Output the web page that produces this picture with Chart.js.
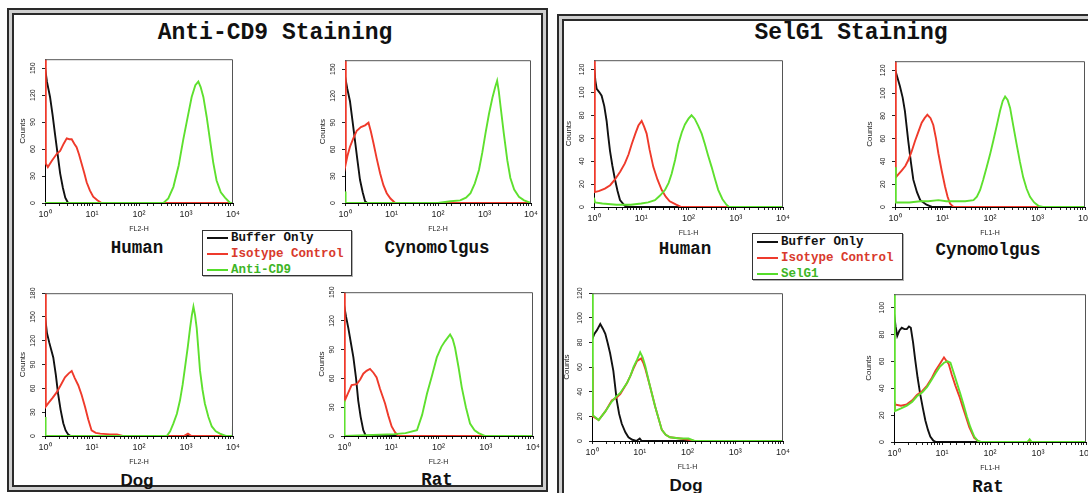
<!DOCTYPE html>
<html><head><meta charset="utf-8">
<script src="https://cdn.jsdelivr.net/npm/chart.js@4/dist/chart.umd.min.js"></script>
<style>
body{margin:0;background:#fff;width:1088px;height:493px;overflow:hidden;position:relative;font-family:"Liberation Sans",Arial,sans-serif}
.frame{position:absolute;border:2px solid #2a2a2a;background:#cfcfcf;box-sizing:border-box}
.inner{position:absolute;left:3px;top:3px;right:3px;bottom:3px;border:2px solid #2a2a2a;background:#fff;box-sizing:border-box}
.t{position:absolute;white-space:nowrap;transform:translate(-50%,-50%);font-family:"Liberation Mono","Courier New",monospace;font-weight:bold;color:#111}
.sans{font-family:"Liberation Sans",Arial,sans-serif}
.cv{position:absolute}
.leg{position:absolute;border:1px solid #333;background:#fff;box-shadow:1px 1px 0 #b0b0b0;box-sizing:border-box}
.row{position:absolute;left:4px;height:14px;display:flex;align-items:center;font-family:"Liberation Mono","Courier New",monospace;font-weight:bold;font-size:12.5px;white-space:nowrap}
.row i{display:inline-block;width:21px;height:2px;margin-right:3px}
</style></head>
<body>
<div class="frame" style="left:7px;top:8px;width:541px;height:484px"><div class="inner"></div></div>
<div class="frame" style="left:557px;top:14px;width:545px;height:495px"><div class="inner"></div></div>

<div class="t" style="left:275px;top:33px;font-size:23px">Anti-CD9 Staining</div>
<div class="t" style="left:851px;top:33px;font-size:23px">SelG1 Staining</div>

<div class="t" style="left:137px;top:248px;font-size:17.5px">Human</div>
<div class="t" style="left:437px;top:248px;font-size:17.5px">Cynomolgus</div>
<div class="t sans" style="left:137px;top:481px;font-size:17px">Dog</div>
<div class="t" style="left:437px;top:480px;font-size:17.5px">Rat</div>
<div class="t" style="left:685px;top:249px;font-size:17.5px">Human</div>
<div class="t" style="left:988px;top:250px;font-size:17.5px">Cynomolgus</div>
<div class="t sans" style="left:686px;top:486px;font-size:17px">Dog</div>
<div class="t" style="left:988px;top:487px;font-size:17.5px">Rat</div>

<div class="leg" style="left:202px;top:230px;width:150px;height:46px">
  <div class="row" style="top:0px;color:#111"><i style="background:#111"></i>Buffer Only</div>
  <div class="row" style="top:16px;color:#d8392c"><i style="background:#ee3a2c"></i>Isotype Control</div>
  <div class="row" style="top:32px;color:#3db526"><i style="background:#55dd2a"></i>Anti-CD9</div>
</div>
<div class="leg" style="left:752px;top:233px;width:151px;height:47px">
  <div class="row" style="top:1px;color:#111"><i style="background:#111"></i>Buffer Only</div>
  <div class="row" style="top:17px;color:#d8392c"><i style="background:#ee3a2c"></i>Isotype Control</div>
  <div class="row" style="top:33px;color:#3db526"><i style="background:#55dd2a"></i>SelG1</div>
</div>

<script>
// ---------------- DATA: [fluorescence, counts] ----------------
const cd9HumanBuffer  = [[1,151],[1.1,135],[1.28,118],[1.45,98],[1.63,77],[1.85,55],[2.1,33],[2.4,17],[2.7,6],[3.1,0],[10000,0]];
const cd9HumanIsotype = [[1,200],[1.04,44],[1.15,40],[1.4,47],[1.8,55],[2.1,58],[2.5,66],[2.9,72],[3.3,71],[3.7,71],[4.2,66],[4.7,62],[5.3,54],[6,44],[6.8,34],[7.7,23],[9,14],[10.6,7],[13,3],[16,0],[10000,0]];
const cd9HumanStain   = [[1,0],[330,0],[420,5],[540,18],[700,42],[870,70],[1080,95],[1320,118],[1580,131],[1830,135],[2050,129],[2340,118],[2750,96],[3240,70],[3800,45],[4470,25],[5500,12],[6760,6],[8700,0],[10000,0]];

const cd9CynoBuffer  = [[1,142],[1.12,128],[1.28,114],[1.45,92],[1.64,70],[1.85,48],[2.1,26],[2.4,12],[2.7,2],[3.0,0],[10000,0]];
const cd9CynoIsotype = [[1,200],[1.04,44],[1.12,52],[1.28,63],[1.5,72],[1.79,81],[2.2,85],[2.7,87],[3.2,90],[3.6,80],[4.1,67],[4.8,50],[5.7,33],[6.7,20],[7.9,11],[9.5,5],[12,0],[10000,0]];
const cd9CynoStain   = [[1,13],[1.03,0],[100,0],[186,2],[300,3],[400,6],[500,11],[620,22],[760,37],[900,57],[1050,78],[1250,100],[1480,118],[1700,130],[1870,137],[2030,125],[2230,107],[2600,78],[3090,48],[3600,28],[4350,15],[5500,7],[7100,3],[10000,0]];

const cd9DogBuffer  = [[1,151],[1.1,130],[1.23,118],[1.35,109],[1.5,99],[1.7,77],[1.9,53],[2.15,33],[2.45,16],[2.75,7],[3.1,2],[3.5,0],[10000,0]];
const cd9DogIsotype = [[1,200],[1.04,37],[1.2,42],[1.45,48],[1.77,55],[2.2,65],[2.66,74],[3.2,79],[3.7,82],[4.3,73],[5.1,64],[6,52],[7.1,37],[8.3,21],[9.8,7],[12,4],[15,3],[24,2],[34,2],[45,0],[900,0],[1100,3],[1300,0],[10000,0]];
const cd9DogStain   = [[1,24],[1.03,0],[390,0],[460,6],[540,16],[640,28],[745,45],[850,65],[950,86],[1090,112],[1220,136],[1330,152],[1440,163],[1560,152],[1690,136],[1840,108],[1990,82],[2250,58],[2520,41],[3000,24],[3540,12],[4300,6],[5270,3],[7000,0],[9900,0],[10000,22]];

const cd9RatBuffer  = [[1,137],[1.1,125],[1.23,113],[1.4,97],[1.58,82],[1.8,60],[2.0,37],[2.25,20],[2.56,6],[2.9,0],[10000,0]];
const cd9RatIsotype = [[1,200],[1.04,37],[1.2,44],[1.45,53],[1.86,54],[2.2,59],[2.56,65],[3.0,68],[3.55,70],[4.2,66],[4.9,61],[5.8,49],[7.4,34],[8.7,21],[10.2,10],[12,4],[14,0],[10000,0]];
const cd9RatStain   = [[1,37],[1.03,0],[11.5,2],[20,3],[35,6],[45,22],[57,44],[73,63],[92,82],[115,93],[138,99],[176,106],[200,101],[224,92],[265,72],[310,51],[380,30],[465,13],[580,6],[705,3],[980,0],[10000,0]];

const selHumanBuffer  = [[1,124],[1.07,110],[1.14,103],[1.3,100],[1.45,97],[1.65,88],[1.85,75],[2.0,62],[2.18,49],[2.45,36],[2.78,24],[3.15,14],[3.55,6],[4.5,1],[5.5,0],[10000,0]];
const selHumanIsotype = [[1,200],[1.04,13],[1.3,14],[1.7,16],[2.2,19],[2.78,24],[3.6,31],[4.5,38],[5.4,46],[6.3,55],[7.5,64],[8.7,71],[10.2,75],[11.5,70],[13,64],[15,50],[18,35],[22,24],[27,15],[33,9],[40,5],[55,2],[71,0],[10000,0]];
const selHumanStain   = [[1,8],[1.05,4],[1.5,3],[3,2],[6,2],[10,3],[14,4],[19.5,6],[25,10],[32,15],[38,21],[44,29],[52,41],[61,55],[72,65],[84,72],[100,77],[116,80],[135,77],[160,71],[190,64],[222,55],[260,45],[308,35],[360,25],[425,15],[520,7],[635,2],[720,0],[10000,0]];

const selCynoBuffer  = [[1,121],[1.12,114],[1.27,106],[1.45,96],[1.62,84],[1.9,58],[2.15,40],[2.43,24],[2.9,13],[3.4,6],[4.6,2],[6,0],[10000,0]];
const selCynoIsotype = [[1,200],[1.04,26],[1.2,29],[1.38,32],[1.65,36],[1.9,41],[2.25,49],[2.64,58],[3.1,66],[3.65,74],[4.2,78],[4.8,81],[5.6,78],[6.4,72],[7.3,60],[8.2,47],[9.6,32],[11.3,18],[12.8,9],[14.4,3],[17,0],[10000,0]];
const selCynoStain   = [[1,35],[1.04,4],[2,4],[3.4,5],[5,5],[8.2,6],[12,5],[17,5],[30,5],[45,6],[53,9],[62,15],[72,24],[85,35],[100,46],[117,58],[138,71],[162,84],[185,93],[208,97],[235,94],[265,87],[310,71],[364,55],[425,40],[500,26],[590,16],[695,9],[850,4],[1045,1],[1300,0],[10000,0]];

const selDogBuffer  = [[1,82],[1.12,87],[1.27,90],[1.49,95],[1.7,91],[1.9,87],[2.15,79],[2.4,71],[2.8,57],[3.3,33],[3.7,22],[4.2,14],[5,7],[5.8,3],[7,1],[8.5,0],[10,2],[11,0],[10000,0]];
const selDogIsotype = [[1,60],[1.04,20],[1.38,17],[1.9,24],[2.6,33],[3.2,35],[3.9,38],[5.4,47],[6.4,53],[7.4,59],[8.8,65],[10.7,67],[12,63],[13,59],[16.5,44],[21,28],[29,9],[35,5],[43,3],[70,2],[105,1],[140,0],[10000,0]];
const selDogStain   = [[1,200],[1.04,21],[1.38,17],[1.9,24],[2.6,32],[3.2,36],[3.9,39],[5.4,47],[6.4,53],[7.4,60],[8.8,66],[10.2,72],[11.5,68],[13,61],[16.5,44],[21,28],[29,9],[35,5],[43,3],[70,2],[105,2],[140,0],[10000,0]];

const selRatBuffer  = [[1,96],[1.08,86],[1.17,79],[1.3,83],[1.45,85],[1.65,84],[1.85,84],[2.05,86],[2.24,85],[2.5,74],[2.77,61],[3.1,48],[3.5,36],[4.0,25],[4.5,16],[5.1,9],[5.7,4],[6.6,1],[7.5,0],[10000,0]];
const selRatIsotype = [[1,30],[1.04,28],[1.4,27],[1.85,28],[2.4,31],[3,35],[3.9,38],[4.9,42],[6,47],[7.3,53],[9,58],[11,63],[13.8,58],[16,50],[19,42],[23,34],[27,26],[32,18],[37,11],[47,3],[60,0],[10000,0]];
const selRatStain   = [[1,200],[1.04,23],[1.4,25],[1.85,27],[2.4,30],[3,34],[3.9,37],[4.9,41],[6,46],[7.3,51],[9,56],[11,59],[13,60],[15,59],[17,53],[20,45],[24,36],[28,28],[33,19],[39,11],[47,4],[55,1],[65,0],[600,0],[670,2],[740,0],[10000,0]];

// Tick labels
const countTicks30_150 = [0,30,60,90,120,150];
const countTicks30_180 = [0,30,60,90,120,150,180];
const countTicks20_120 = [0,20,40,60,80,100,120];
const countTicks20_100 = [0,20,40,60,80,100];
const decadeLabels = ['10\u2070','10\u00B9','10\u00B2','10\u00B3','10\u2074'];

// ---------------- DRAWING ----------------
const BLACK = '#111111', RED = '#ef3a2b', GREEN = '#5ee02e';
const PADL = 34, PADT = 6, PADR = 14, PADB = 32;

const framePlugin = {
  id: 'plotFrame',
  afterDraw(chart) {
    const a = chart.chartArea, c = chart.ctx;
    c.save();
    c.strokeStyle = '#555';
    c.lineWidth = 1;
    c.beginPath();
    c.moveTo(a.left, a.top + 0.5); c.lineTo(a.right - 0.5, a.top + 0.5); c.lineTo(a.right - 0.5, a.bottom);
    c.stroke();
    c.restore();
  }
};

const toXY = arr => arr.map(p => ({x: p[0], y: p[1]}));

function makeChart(rect, buffer, isotype, stain, ymax, yTicks, xTitle, titlePad) {
  const [l, t, r, b] = rect;
  const div = document.createElement('div');
  div.className = 'cv';
  const w = (r - l) + PADL + PADR, h = (b - t) + PADT + PADB;
  div.style.left = (l - PADL) + 'px';
  div.style.top = (t - PADT) + 'px';
  const cv = document.createElement('canvas');
  cv.width = w; cv.height = h;
  cv.style.width = w + 'px'; cv.style.height = h + 'px';
  div.appendChild(cv);
  document.body.appendChild(div);
  const tickCol = '#222';
  new Chart(cv, {
    type: 'line',
    data: { datasets: [
      { label: 'stain', data: toXY(stain), borderColor: GREEN, order: 0 },
      { label: 'isotype', data: toXY(isotype), borderColor: RED, order: 1 },
      { label: 'buffer', data: toXY(buffer), borderColor: BLACK, order: 2 }
    ]},
    options: {
      responsive: false, animation: false, devicePixelRatio: 1,
      layout: { padding: { top: PADT, right: PADR, left: 0, bottom: 0 } },
      plugins: { legend: { display: false }, tooltip: { enabled: false } },
      elements: { point: { radius: 0 }, line: { borderWidth: 1.9, tension: 0 } },
      scales: {
        x: {
          type: 'logarithmic', min: 1, max: 10000,
          afterFit: s => { s.height = PADB; },
          border: { color: '#000', width: 1 },
          grid: { display: true, drawOnChartArea: false, drawTicks: true, tickLength: 3, color: '#222' },
          ticks: {
            autoSkip: false, maxRotation: 0, minRotation: 0, padding: 3, color: tickCol,
            font: { size: 9, family: '"Liberation Sans", Arial' },
            callback: v => { const e = Math.log10(v); return Math.abs(e - Math.round(e)) < 1e-6 ? decadeLabels[Math.round(e)] : ''; }
          },
          title: { display: true, text: xTitle, color: tickCol, font: { size: 7, family: '"Liberation Sans", Arial' }, padding: { top: 0, bottom: 2 } }
        },
        y: {
          min: 0, max: ymax,
          afterFit: s => { s.width = PADL; },
          afterBuildTicks: s => { s.ticks = yTicks.map(v => ({ value: v })); },
          border: { color: '#000', width: 1 },
          grid: { display: true, drawOnChartArea: false, drawTicks: true, tickLength: 3, color: '#222' },
          ticks: {
            minRotation: 90, maxRotation: 90, crossAlign: 'center', padding: 3, color: tickCol,
            font: { size: 7, family: '"Liberation Sans", Arial' }
          },
          title: { display: true, text: 'Counts', color: tickCol, font: { size: 8, family: '"Liberation Sans", Arial' }, padding: { top: titlePad, bottom: 0 } }
        }
      }
    },
    plugins: [framePlugin]
  });
}

makeChart([45, 58, 233, 203], cd9HumanBuffer, cd9HumanIsotype, cd9HumanStain, 160, countTicks30_150, 'FL2-H', 7);
makeChart([345, 59, 531, 203], cd9CynoBuffer, cd9CynoIsotype, cd9CynoStain, 160, countTicks30_150, 'FL2-H', 7);
makeChart([45, 292, 233, 436], cd9DogBuffer, cd9DogIsotype, cd9DogStain, 180, countTicks30_180, 'FL2-H', 7);
makeChart([344, 291, 533, 436], cd9RatBuffer, cd9RatIsotype, cd9RatStain, 150, countTicks30_150, 'FL2-H', 7);
makeChart([594, 59, 783, 207], selHumanBuffer, selHumanIsotype, selHumanStain, 128, countTicks20_120, 'FL1-H', 4);
makeChart([895, 60, 1085, 207], selCynoBuffer, selCynoIsotype, selCynoStain, 128, countTicks20_120, 'FL1-H', 4);
makeChart([592, 292, 783, 441], selDogBuffer, selDogIsotype, selDogStain, 120, countTicks20_120, 'FL1-H', 4);
makeChart([894, 293, 1086, 442], selRatBuffer, selRatIsotype, selRatStain, 110, countTicks20_100, 'FL1-H', 4);
</script>
</body></html>
